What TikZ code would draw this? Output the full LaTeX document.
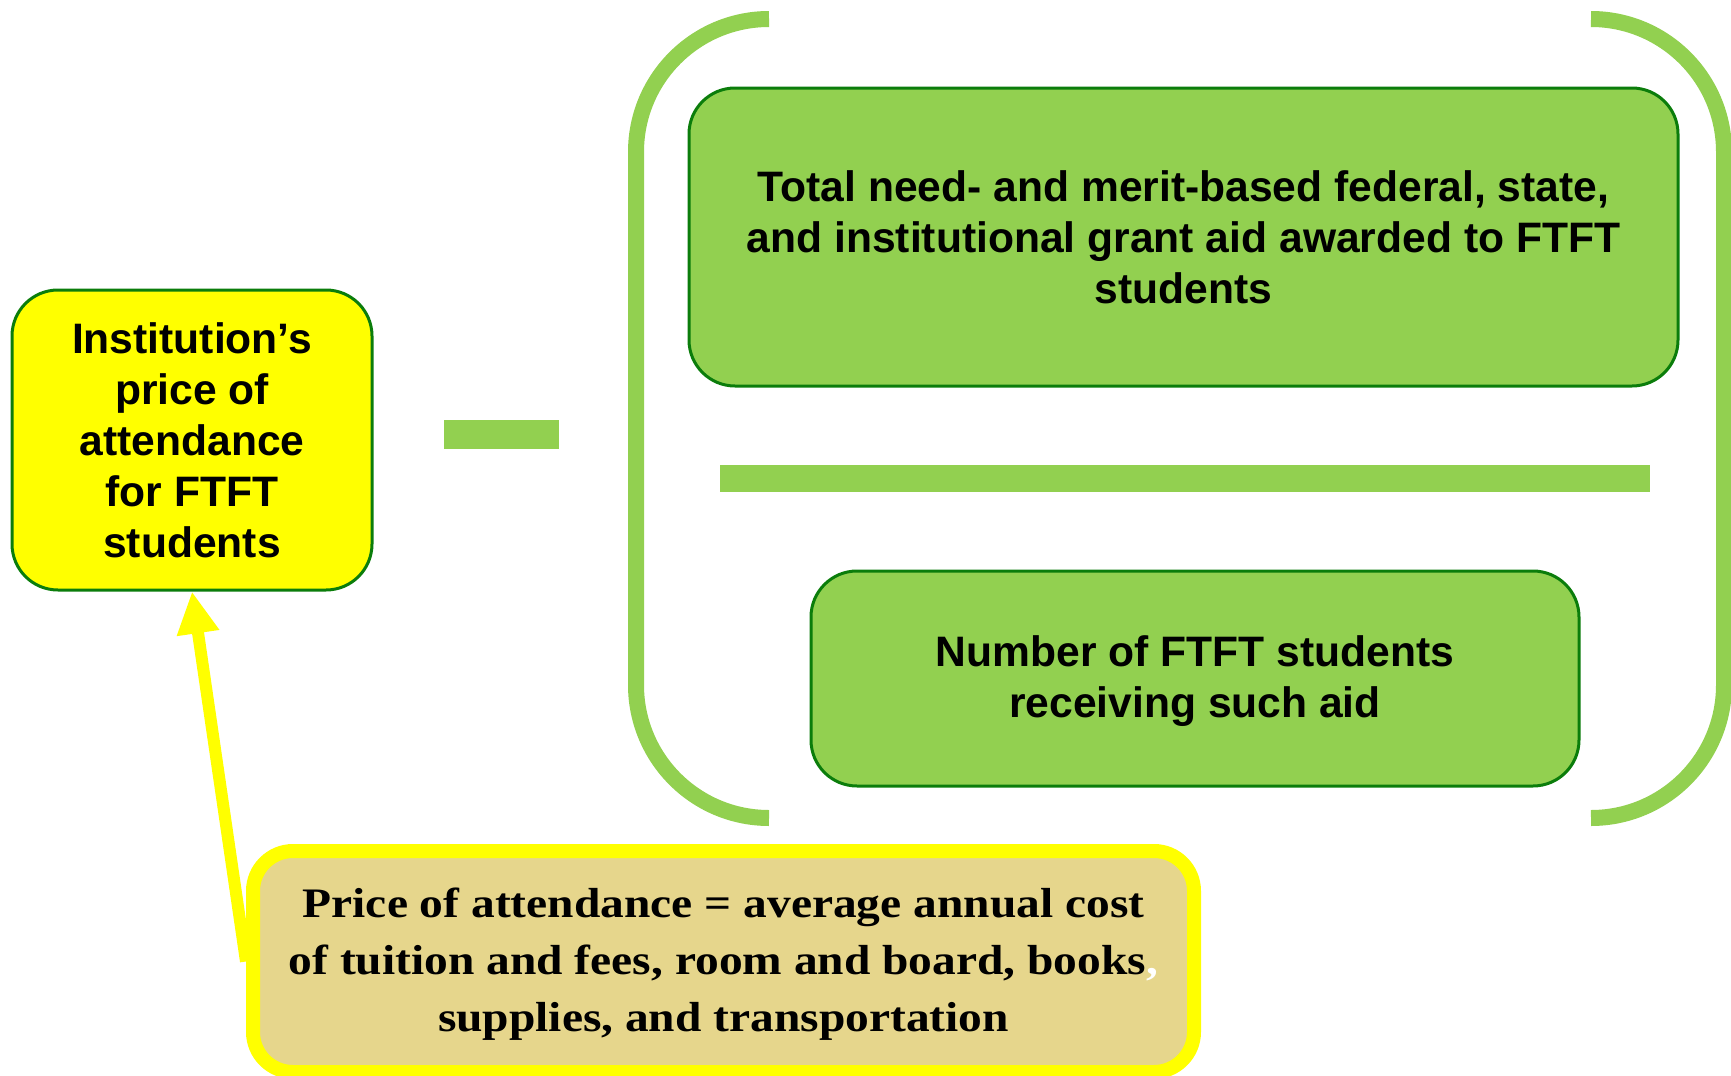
\documentclass[tikz,border=0pt]{standalone}
\usepackage{fontspec}
\setmainfont{Liberation Serif}
\setsansfont{Liberation Sans}
\newfontfamily\notefont[FakeStretch=1.13]{Liberation Serif}
\usepackage{xcolor}
\usetikzlibrary{arrows.meta}
\definecolor{leaf}{HTML}{92D050}
\definecolor{darkleaf}{HTML}{0B7D0B}
\definecolor{sand}{HTML}{E6D68C}
\definecolor{lemon}{HTML}{FFFF00}

\tikzset{
  sansbox/.style={draw=darkleaf, line width=1.5pt, rounded corners=23pt, align=center, inner sep=0pt,
    font=\sffamily\bfseries\fontsize{21.3}{25.5}\selectfont},
  notebox/.style={draw=lemon, fill=sand, line width=7pt, rounded corners=20pt, align=center, inner sep=0pt,
    font=\notefont\bfseries\fontsize{21}{28.5}\selectfont},
  bracket/.style={leaf, line width=8pt, rounded corners=66.5pt},
  pointer/.style={lemon, line width=6pt, -{Triangle[length=21pt, width=20pt]}}
}

\begin{document}
\begin{tikzpicture}[x=0.5pt, y=-0.5pt]
        \useasboundingbox (0,0) rectangle (1731,1076);
        % brackets and bars
        \draw[bracket] (769,19) -- (636,19) -- (636,818) -- (769,818);
        \draw[bracket] (1591,19) -- (1724,19) -- (1724,818) -- (1591,818);
        \fill[leaf] (444,420) rectangle (559,449);
        \fill[leaf] (720,465) rectangle (1650,492);
        % boxes
        \node[sansbox, fill=lemon, minimum width=180pt, minimum height=150pt] (price) at (192,440)
            {Institution’s\\price of\\attendance\\for FTFT\\students};
        \node[sansbox, fill=leaf, minimum width=494.5pt, minimum height=149pt] (grant) at (1183.5,237)
            {Total need- and merit-based federal, state,\\and institutional grant aid awarded to FTFT\\students};
        \node[sansbox, fill=leaf, minimum width=384pt, minimum height=107.5pt] (count) at (1195,678.5)
            {\rule{0pt}{18pt}Number of FTFT students\\receiving such aid};
        \node[notebox, minimum width=470.5pt, minimum height=110.5pt] (note) at (723.5,961.5)
            {\rule{0pt}{17pt}Price of attendance = average annual cost\\of tuition and fees, room and board, books\textcolor{white}{,}\\supplies, and transportation};
        \draw[pointer] (note.west) -- (price.south);
    \end{tikzpicture}
\end{document}
